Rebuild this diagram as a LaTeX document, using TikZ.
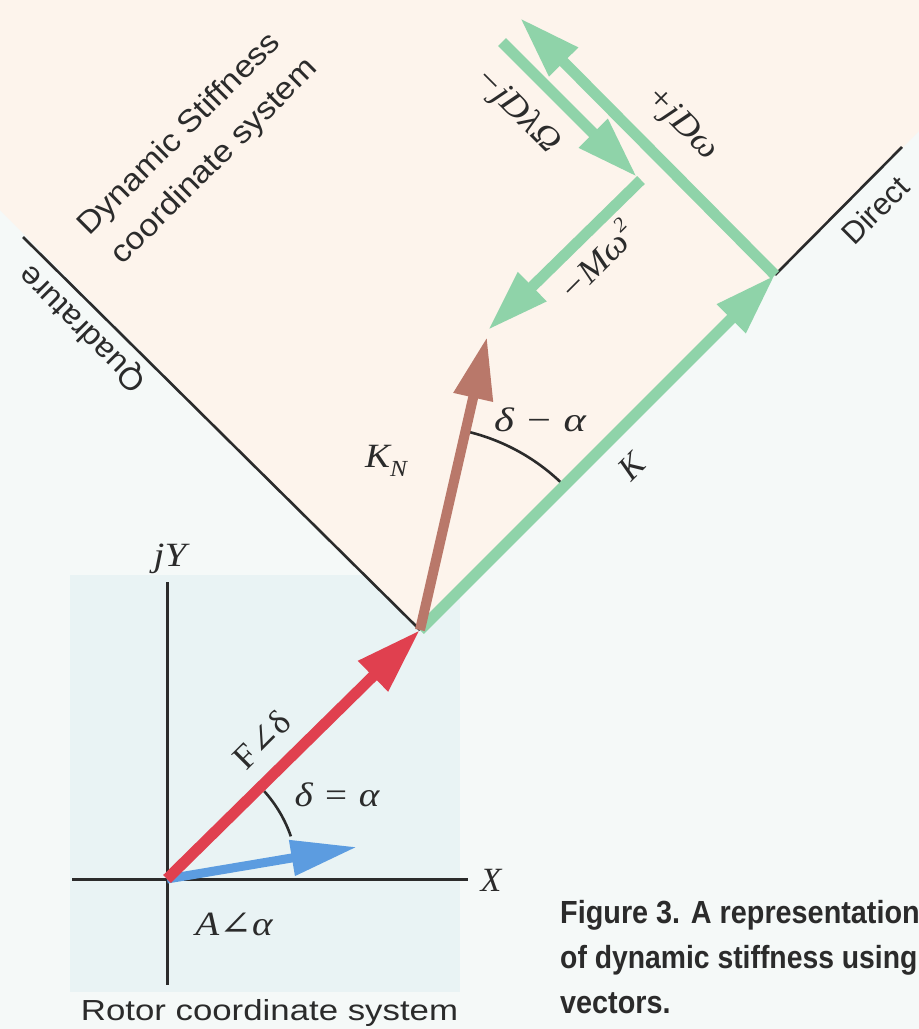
\RequirePackage{fix-cm}
\documentclass[tikz,border=0pt]{standalone}
\usepackage{fontspec}
\usepackage{graphicx}
\newfontfamily\sansf{Liberation Sans}
\newfontfamily\serf{Liberation Serif}
\newfontfamily\symf{DejaVu Serif}
\newcommand{\ang}{{\symf ∠}}
\usetikzlibrary{arrows.meta}
\definecolor{ink}{HTML}{2B2B2B}
\definecolor{gr}{HTML}{8FD3A9}
\definecolor{rd}{HTML}{E0404F}
\definecolor{bl}{HTML}{5C9CE0}
\definecolor{br}{HTML}{B9786A}
\definecolor{peach}{HTML}{FDF4EC}
\definecolor{bgc}{HTML}{F5F9F8}
\definecolor{bluebg}{HTML}{E9F3F4}
\begin{document}
\begin{tikzpicture}[x=1pt,y=1pt,
  vec/.style={line width=11pt,-{Triangle[length=62pt,width=38pt]}},
  axisline/.style={draw=ink,line width=3pt},
  thinline/.style={draw=ink,line width=2.6pt},
  mlab/.style={text=ink,inner sep=0pt,font=\serf\itshape\fontsize{34}{40}\selectfont},
  slab/.style={text=ink,inner sep=0pt,font=\sansf\fontsize{31}{36}\selectfont},
  caplab/.style={text=ink,inner sep=0pt,anchor=base west,font=\sansf\bfseries\fontsize{32}{40}\selectfont}]
% backgrounds
\useasboundingbox (0,0) rectangle (919,-1029);
\fill[bgc] (0,0) rectangle (919,-1029);
\fill[bluebg] (70,-575) rectangle (460,-992);
\fill[peach] (420,-630) -- (0,-210) -- (0,0) -- (919,0) -- (919,-131) -- cycle;
% named points
\coordinate (O) at (167,-879);
\coordinate (P) at (420,-630);
\coordinate (Kt) at (775,-275);
\coordinate (Xl) at (72,-879);
\coordinate (Xr) at (468,-879);
\coordinate (Yt) at (167,-582);
\coordinate (Yb) at (167,-985);
\coordinate (At) at (357,-847);
\coordinate (Qe) at (23,-237);
\coordinate (De) at (902,-147);
\coordinate (Jt) at (520,-18);
\coordinate (Ls) at (502,-42);
\coordinate (Lt) at (637,-177);
\coordinate (Ms) at (641,-180);
\coordinate (Mt) at (488,-330);
\coordinate (KNt) at (487,-337);
% axes
\draw[axisline] (Xl) -- (Xr);
\draw[axisline] (Yt) -- (Yb);
\draw[thinline] (Qe) -- (P);
\draw[thinline] (Kt) -- (De);
% arcs
\draw[thinline] (P) ++(45:204) arc[start angle=45,end angle=77,radius=204];
\draw[thinline] (O) ++(42:131) arc[start angle=42,end angle=19,radius=131];
% vectors
\draw[vec,draw=bl,fill=bl,line width=9pt,-{Triangle[length=66pt,width=34pt]}] (O) -- (At);
\draw[vec,draw=rd,fill=rd,-{Triangle[length=66pt,width=40pt]}] (O) -- (P);
\draw[vec,draw=gr,fill=gr] (P) -- (Kt);
\draw[vec,draw=gr,fill=gr] (Kt) -- (Jt);
\draw[vec,draw=gr,fill=gr] (Ls) -- (Lt);
\draw[vec,draw=gr,fill=gr] (Ms) -- (Mt);
\draw[vec,draw=br,fill=br,line width=10pt] (P) -- (KNt);
% labels
\node[mlab] (ljy) at (170,-559) {\scalebox{1.15}[1]{jY}};
\node[mlab] (lx) at (491,-880) {X};
\node[mlab] (la) at (234,-924) {\scalebox{1.15}[1]{A\ang α}};
\node[mlab] (lda) at (337,-795) {\scalebox{1.15}[1]{δ = α}};
\node[mlab,rotate=45] (lf) at (262,-740) {\scalebox{1.05}[1]{\upshape F\ang δ}};
\node[mlab] (lkn) at (386,-461) {\scalebox{1.1}[1]{K\raisebox{-0.28em}{\fontsize{23}{23}\selectfont N}}};
\node[mlab] (ldma) at (540,-420) {\scalebox{1.25}[1]{δ − α}};
\node[mlab,rotate=45] (lk) at (632,-467) {K};
\node[mlab,rotate=-45] (ljd) at (681,-124) {\scalebox{1.1}[1]{+jDω}};
\node[mlab,rotate=-45] (ljl) at (517,-111) {\scalebox{1.1}[1]{−jDλΩ}};
\node[mlab,rotate=45] (lm) at (596,-260) {\scalebox{1.1}[1]{−Mω\raisebox{0.45em}{\fontsize{20}{20}\selectfont 2}}};
\node[slab,rotate=45] (ldir) at (875,-210) {Direct};
\node[slab,rotate=135] (lq) at (83,-328) {\scalebox{1.05}[1]{Quadrature}};
\node[slab,rotate=45] (lds1) at (180,-135) {\scalebox{1.1}[1]{Dynamic Stiffness}};
\node[slab,rotate=45] (lds2) at (215,-162) {\scalebox{1.1}[1]{coordinate system}};
\node[slab,anchor=base,font=\sansf\fontsize{29}{36}\selectfont] (lrot) at (269.5,-1020) {\scalebox{1.2}[1]{Rotor coordinate system}};
\node[caplab] (c1) at (560,-923) {\scalebox{0.9}[1]{Figure 3. A representation}};
\node[caplab] (c2) at (560,-968) {\scalebox{0.885}[1]{of dynamic stiffness using}};
\node[caplab] (c3) at (560,-1013) {\scalebox{0.9}[1]{vectors.}};
\end{tikzpicture}
\end{document}
